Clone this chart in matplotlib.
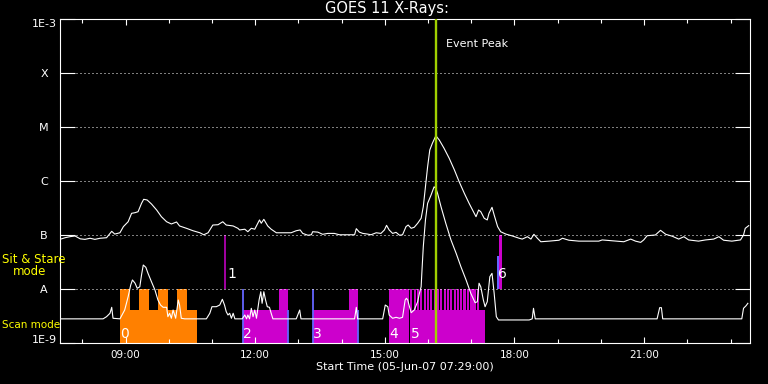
import matplotlib
matplotlib.use('Agg')
import matplotlib.pyplot as plt
from matplotlib.ticker import FixedLocator, NullLocator

W, H = 768, 384

# ---------------- data (time in hours of 05-Jun-07, flux in W/m^2) ----------------
long_t = [7.48, 7.60, 7.71, 7.83, 7.95, 8.06, 8.18, 8.29, 8.41, 8.56,
          8.64, 8.68, 8.75, 8.87, 8.95, 9.06, 9.14, 9.22, 9.29, 9.37,
          9.42, 9.50, 9.60, 9.72, 9.83, 9.95, 10.06, 10.18, 10.25, 10.41,
          10.56, 10.72, 10.81, 10.91, 11.02, 11.14, 11.25, 11.33, 11.49, 11.60,
          11.64, 11.76, 11.83, 11.91, 11.99, 12.10, 12.14, 12.20, 12.29, 12.37,
          12.49, 12.64, 12.83, 12.95, 13.04, 13.10, 13.22, 13.30, 13.33, 13.45,
          13.56, 13.68, 13.83, 13.95, 14.30, 14.34, 14.41, 14.49, 14.60, 14.68,
          14.80, 14.91, 14.99, 15.04, 15.10, 15.18, 15.26, 15.34, 15.41, 15.49,
          15.54, 15.61, 15.68, 15.76, 15.84, 15.89, 15.94, 15.99, 16.04, 16.10,
          16.17, 16.20, 16.26, 16.37, 16.49, 16.61, 16.72, 16.84, 16.95, 17.03,
          17.11, 17.17, 17.22, 17.30, 17.37, 17.41, 17.48, 17.53, 17.61, 17.68,
          17.80, 17.95, 18.11, 18.18, 18.30, 18.38, 18.45, 18.53, 18.61, 18.80,
          19.03, 19.11, 19.26, 19.49, 19.95, 20.03, 20.34, 20.53, 20.69, 20.80,
          20.92, 20.99, 21.07, 21.26, 21.38, 21.50, 21.65, 21.80, 21.92, 22.03,
          22.26, 22.42, 22.61, 22.73, 22.84, 23.03, 23.23, 23.30, 23.34, 23.42]
long_f = [8.3e-8, 8.9e-8, 9.3e-8, 9.6e-8, 8.5e-8, 8.3e-8, 8.7e-8, 8.3e-8, 8.7e-8, 8.9e-8,
          1.07e-7, 1.17e-7, 1.04e-7, 1.10e-7, 1.43e-7, 1.76e-7, 2.52e-7, 2.59e-7, 2.70e-7, 3.86e-7,
          4.58e-7, 4.45e-7, 3.75e-7, 2.90e-7, 2.18e-7, 1.76e-7, 1.60e-7, 1.74e-7, 1.47e-7, 1.33e-7,
          1.20e-7, 1.10e-7, 1.01e-7, 1.10e-7, 1.53e-7, 1.55e-7, 1.76e-7, 1.53e-7, 1.47e-7, 1.33e-7,
          1.24e-7, 1.28e-7, 1.15e-7, 1.33e-7, 1.28e-7, 1.90e-7, 1.65e-7, 1.95e-7, 1.47e-7, 1.28e-7,
          1.10e-7, 1.10e-7, 1.10e-7, 1.20e-7, 1.24e-7, 1.07e-7, 9.9e-8, 1.01e-7, 1.15e-7, 1.13e-7,
          1.03e-7, 1.07e-7, 1.07e-7, 1.01e-7, 1.01e-7, 1.31e-7, 1.13e-7, 1.07e-7, 1.04e-7, 1.01e-7,
          1.10e-7, 1.07e-7, 1.24e-7, 1.51e-7, 1.24e-7, 1.07e-7, 1.12e-7, 9.9e-8, 1.01e-7, 1.43e-7,
          1.53e-7, 1.33e-7, 1.39e-7, 1.65e-7, 2.04e-7, 3.34e-7, 7.8e-7, 1.84e-6, 3.75e-6, 4.99e-6,
          6.6e-6, 6.6e-6, 5.74e-6, 4.04e-6, 2.63e-6, 1.60e-6, 9.7e-7, 5.9e-7, 3.86e-7, 2.90e-7,
          2.18e-7, 2.90e-7, 2.70e-7, 2.04e-7, 1.90e-7, 2.52e-7, 3.26e-7, 2.34e-7, 1.43e-7, 1.15e-7,
          1.04e-7, 9.6e-8, 8.7e-8, 8.4e-8, 9.3e-8, 8.4e-8, 1.03e-7, 8.7e-8, 7.5e-8, 7.7e-8,
          8.0e-8, 8.7e-8, 8.0e-8, 7.7e-8, 7.7e-8, 8.1e-8, 7.7e-8, 7.5e-8, 8.4e-8, 7.7e-8,
          7.3e-8, 8.1e-8, 9.7e-8, 1.0e-7, 1.22e-7, 1.03e-7, 9.5e-8, 8.4e-8, 9.3e-8, 8.1e-8,
          7.7e-8, 8.1e-8, 8.4e-8, 9.3e-8, 8.0e-8, 7.7e-8, 8.1e-8, 1.0e-7, 1.33e-7, 1.49e-7]

short_t = [7.48, 8.48, 8.56, 8.64, 8.68, 8.71, 8.87, 8.98, 9.06, 9.12,
           9.16, 9.22, 9.27, 9.33, 9.37, 9.41, 9.47, 9.52, 9.60, 9.68,
           9.75, 9.81, 9.87, 9.95, 9.98, 10.02, 10.06, 10.10, 10.16, 10.22,
           10.25, 10.29, 10.37, 10.87, 10.95, 11.00, 11.10, 11.18, 11.24, 11.29,
           11.33, 11.37, 11.41, 11.45, 11.49, 11.53, 11.70, 11.76, 11.80, 11.83,
           11.87, 11.91, 11.95, 11.99, 12.03, 12.09, 12.13, 12.16, 12.20, 12.24,
           12.28, 12.33, 12.37, 12.41, 12.95, 13.03, 13.06, 14.30, 14.34, 14.37,
           14.95, 15.01, 15.07, 15.10, 15.18, 15.26, 15.34, 15.41, 15.47, 15.50,
           15.53, 15.57, 15.61, 15.68, 15.76, 15.80, 15.84, 15.86, 15.89, 15.94,
           15.99, 16.07, 16.14, 16.18, 16.22, 16.30, 16.41, 16.53, 16.65, 16.76,
           16.88, 16.99, 17.09, 17.14, 17.18, 17.22, 17.28, 17.32, 17.37, 17.43,
           17.48, 17.53, 17.58, 17.63, 18.11, 18.34, 18.41, 18.44, 18.48, 21.30,
           21.36, 21.40, 21.43, 23.26, 23.30, 23.36, 23.40]
short_f = [2.8e-9, 2.8e-9, 3.07e-9, 3.55e-9, 4.58e-9, 2.87e-9, 2.8e-9, 4.08e-9, 7.2e-9, 1.19e-8,
           1.47e-8, 1.28e-8, 1.03e-8, 1.10e-8, 1.82e-8, 2.78e-8, 2.52e-8, 1.95e-8, 1.36e-8, 9.6e-9,
           6.25e-9, 5.05e-9, 4.58e-9, 4.58e-9, 3.07e-9, 3.55e-9, 2.87e-9, 4.08e-9, 2.87e-9, 6.25e-9,
           5.05e-9, 2.87e-9, 2.8e-9, 2.8e-9, 3.55e-9, 4.70e-9, 4.70e-9, 5.05e-9, 6.45e-9, 5.05e-9,
           3.80e-9, 3.30e-9, 3.55e-9, 2.87e-9, 3.55e-9, 2.8e-9, 2.8e-9, 3.30e-9, 2.8e-9, 3.30e-9,
           2.8e-9, 4.39e-9, 3.07e-9, 4.08e-9, 2.87e-9, 6.25e-9, 8.9e-9, 5.43e-9, 8.9e-9, 6.25e-9,
           4.70e-9, 4.58e-9, 3.55e-9, 2.8e-9, 2.8e-9, 4.08e-9, 2.8e-9, 2.8e-9, 4.58e-9, 2.8e-9,
           2.8e-9, 5.05e-9, 4.70e-9, 3.30e-9, 2.87e-9, 2.99e-9, 2.87e-9, 2.99e-9, 6.25e-9, 6.73e-9,
           6.25e-9, 4.70e-9, 3.64e-9, 4.08e-9, 5.82e-9, 8.3e-9, 1.10e-8, 2.25e-8, 6.07e-8, 1.90e-7,
           3.86e-7, 5.51e-7, 7.8e-7, 7.33e-7, 5.9e-7, 3.34e-7, 1.65e-7, 8.1e-8, 4.58e-8, 2.59e-8,
           1.47e-8, 8.3e-9, 5.57e-9, 5.82e-9, 1.28e-8, 1.10e-8, 6.25e-9, 4.70e-9, 5.82e-9, 1.69e-8,
           1.95e-8, 8.3e-9, 3.07e-9, 2.67e-9, 2.67e-9, 2.67e-9, 2.8e-9, 4.39e-9, 2.8e-9, 2.8e-9,
           4.51e-9, 4.51e-9, 2.8e-9, 2.8e-9, 4.39e-9, 4.91e-9, 5.43e-9]

# flux levels / class labels
level_vals = [1e-9, 1e-8, 1e-7, 1e-6, 1e-5, 1e-4, 1e-3]
level_names = ['1E-9', 'A', 'B', 'C', 'M', 'X', '1E-3']

# x ticks
major_hours = [9, 12, 15, 18, 21]
major_names = ['09:00', '12:00', '15:00', '18:00', '21:00']
minor_hours = [8, 10, 11, 13, 14, 16, 17, 19, 20, 22, 23]

# observing modes
BASE = 1e-9          # bottom of plot
SCAN_TOP = 4.1e-9    # height of scan-mode blocks
STARE_LOW = 1e-8     # A level
STARE_TOP = 1e-7     # B level
BLUE_TOP = 4.1e-8

orange_scan_start = [8.87]
orange_scan_end = [10.65]
orange_tall_start = [8.87, 9.31, 9.75, 10.19]
orange_tall_end = [9.10, 9.54, 9.98, 10.42]

mag_scan_start = [11.71, 13.33, 15.59]
mag_scan_end = [12.75, 14.39, 17.32]
mag_tall_start = [12.54, 14.18, 15.10]
mag_tall_end = [12.75, 14.39, 15.55]
stripe_start = [15.59, 15.67, 15.74, 15.82, 15.90, 15.97, 16.05, 16.13, 16.21, 16.28,
                16.36, 16.44, 16.51, 16.59, 16.67, 16.74, 16.82, 16.90, 16.98, 17.05, 17.13]
stripe_width = 0.05

blue_full_x = [11.71, 13.33]       # start markers (to A level)
blue_scan_x = [12.75, 14.39]       # end markers (scan height)

stare1_x = 11.30
stare6_blue = (17.59, 17.65)
stare6_mag = (17.65, 17.71)

region_labels = ['0', '1', '2', '3', '4', '5', '6']
region_label_x = [8.88, 11.36, 11.72, 13.34, 15.11, 15.60, 17.63]
region_label_y = [1.24e-9, 1.63e-8, 1.24e-9, 1.24e-9, 1.24e-9, 1.24e-9, 1.63e-8]

event_peak = 16.18

# ---------------- drawing ----------------
ORANGE = '#ff8000'
MAGENTA = '#cc00cc'
PURPLE = '#b000b0'
BLUE = '#6464ff'
GREEN = '#a0d000'

fig = plt.figure(figsize=(W / 100, H / 100), dpi=100, facecolor='black')
ax = fig.add_axes([60 / W, 41 / H, 690 / W, 324 / H], facecolor='black')
ax.set_yscale('log')
ax.set_ylim(1e-9, 1e-3)
ax.set_xlim(7.4833, 23.45)


def blocks(starts, ends, bottom, top, color):
    ax.bar(starts, [top - bottom] * len(starts),
           width=[e - s for s, e in zip(starts, ends)],
           bottom=bottom, align='edge', color=color, linewidth=0,
           antialiased=False, zorder=1)


# orange (scan + sit & stare) blocks
blocks(orange_scan_start, orange_scan_end, BASE, SCAN_TOP, ORANGE)
blocks(orange_tall_start, orange_tall_end, BASE, STARE_LOW, ORANGE)
# magenta blocks
blocks(mag_scan_start, mag_scan_end, BASE, SCAN_TOP, MAGENTA)
blocks(mag_tall_start, mag_tall_end, BASE, STARE_LOW, MAGENTA)
blocks(stripe_start, [s + stripe_width for s in stripe_start], BASE, STARE_LOW, MAGENTA)
# blue markers
ax.vlines(blue_full_x, BASE, STARE_LOW, colors=BLUE, linewidth=1.3, zorder=1.5)
ax.vlines(blue_scan_x, BASE, SCAN_TOP, colors=BLUE, linewidth=1.3, zorder=1.5)
# sit & stare events above A
ax.vlines([stare1_x], STARE_LOW, STARE_TOP, colors=PURPLE, linewidth=1.3, zorder=1.5)
blocks([stare6_blue[0]], [stare6_blue[1]], STARE_LOW, BLUE_TOP, BLUE)
blocks([stare6_mag[0]], [stare6_mag[1]], STARE_LOW, STARE_TOP, MAGENTA)

# curves
ax.plot(long_t, long_f, color='white', linewidth=0.8, zorder=3)
ax.plot(short_t, short_f, color='white', linewidth=0.8, zorder=3)

# event peak
ax.axvline(event_peak, color=GREEN, linewidth=1.7, zorder=4)
ax.text(event_peak + 0.23, 3.0e-4, 'Event Peak', color='white', fontsize=8,
        ha='left', va='baseline')

# region labels
for lab, lx, ly in zip(region_labels, region_label_x, region_label_y):
    ax.text(lx, ly, lab, color='white', fontsize=10, ha='left', va='baseline', zorder=5)

# axes styling
for sp in ax.spines.values():
    sp.set_color('white')
    sp.set_linewidth(0.8)

ax.yaxis.set_major_locator(FixedLocator(level_vals))
ax.yaxis.set_minor_locator(NullLocator())
ax.set_yticklabels(level_names)
ax.xaxis.set_major_locator(FixedLocator(major_hours))
ax.xaxis.set_minor_locator(FixedLocator(minor_hours))
ax.set_xticklabels(major_names)

ax.tick_params(axis='y', which='major', direction='in', length=10.8, width=0.8,
               left=True, right=True, colors='white', labelsize=8, pad=11.5)
ax.tick_params(axis='x', which='major', direction='in', length=4.5, width=0.8,
               top=True, bottom=True, colors='white', labelsize=7.5, pad=5)
ax.tick_params(axis='x', which='minor', direction='in', length=2.6, width=0.8,
               top=True, bottom=True, colors='white')
for t in ax.get_yticklabels():
    t.set_horizontalalignment('center')
ticks = ax.yaxis.get_major_ticks()
ticks[0].label1.set_verticalalignment('baseline')
ticks[-1].label1.set_verticalalignment('top')

ax.grid(axis='y', which='major', color='white', linestyle=(0, (1, 3)), linewidth=0.72, zorder=0.5)
ax.set_axisbelow(False)

ax.set_xlabel('Start Time (05-Jun-07 07:29:00)', color='white', fontsize=8, labelpad=1.5)

# figure texts
fig.text(387 / W, 1 - 9 / H, 'GOES 11 X-Rays:', color='white', fontsize=10.5,
         ha='center', va='center')
fig.text(2 / W, 1 - 263 / H, 'Sit & Stare', color='yellow', fontsize=8.5,
         ha='left', va='baseline')
fig.text(13 / W, 1 - 275 / H, 'mode', color='yellow', fontsize=8.5,
         ha='left', va='baseline')
fig.text(2 / W, 1 - 327.5 / H, 'Scan mode', color='yellow', fontsize=7.5,
         ha='left', va='baseline')

fig.savefig('out.png', dpi=100, facecolor='black')
